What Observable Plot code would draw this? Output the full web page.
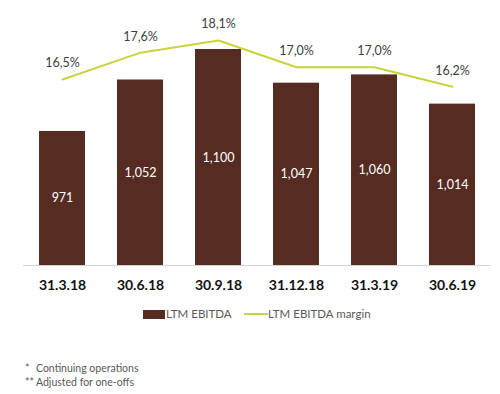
<!DOCTYPE html>
<html>
<head>
<meta charset="utf-8">
<script src="https://cdn.jsdelivr.net/npm/d3@7"></script>
<script src="https://cdn.jsdelivr.net/npm/@observablehq/plot@0.6"></script>
<style>
  html, body { margin: 0; padding: 0; background: #fff; }
  #wrap { position: relative; width: 500px; height: 394px; font-family: Lato, "Open Sans", sans-serif; }
  #legend { position: absolute; top: 306px; left: 0; width: 500px; height: 16px; font-size: 11.5px; color: #595959; }
  .sw { position: absolute; }
  .lt { position: absolute; top: 0; line-height: 16px; }
  #notes { position: absolute; left: 25px; top: 361px; font-size: 10.5px; color: #595959; line-height: 14px; }
  #notes span { display: inline-block; width: 11px; }
</style>
</head>
<body>
<div id="wrap">
  <div id="chart"></div>
  <div id="legend">
    <div class="sw" style="left:143px; top:4px; width:22px; height:9px; background:#562b22;"></div>
    <div class="lt" style="left:166px;">LTM EBITDA</div>
    <div class="sw" style="left:244px; top:7px; width:24px; height:2px; background:#c9d43a;"></div>
    <div class="lt" style="left:268px;">LTM EBITDA margin</div>
  </div>
  <div id="notes">
    <div><span>*</span>Continuing operations</div>
    <div><span>**</span>Adjusted for one-offs</div>
  </div>
</div>
<script>
const categories = ["31.3.18", "30.6.18", "30.9.18", "31.12.18", "31.3.19", "30.6.19"];
const ebitda = [971, 1052, 1100, 1047, 1060, 1014];
const margin = [16.5, 17.6, 18.1, 17.0, 17.0, 16.2];
const ebitdaLabels = ["971", "1,052", "1,100", "1,047", "1,060", "1,014"];
const marginLabels = ["16,5%", "17,6%", "18,1%", "17,0%", "17,0%", "16,2%"];

const yDomain = [760, 1100];
const marginDomain = [8.87, 17.73]; // secondary (right) axis domain
const toPrimary = d3.scaleLinear().domain(marginDomain).range(yDomain);

const data = categories.map((c, i) => ({
  cat: c, v: ebitda[i], vl: ebitdaLabels[i], m: margin[i], ml: marginLabels[i]
}));

const chart = Plot.plot({
  width: 500,
  height: 300,
  marginLeft: 23,
  marginRight: 9,
  marginTop: 49,
  marginBottom: 35,
  style: { fontFamily: "Lato, 'Open Sans', sans-serif", background: "#fff" },
  x: { domain: categories, paddingInner: 0.41, paddingOuter: 0.205, label: null },
  y: { domain: yDomain, axis: null },
  marks: [
    Plot.barY(data, { x: "cat", y1: yDomain[0], y2: "v", fill: "#562b22" }),
    Plot.ruleY([yDomain[0]], { stroke: "#d4d4d4", strokeWidth: 1 }),
    Plot.text(data, { x: "cat", y: d => (yDomain[0] + d.v) / 2, text: "vl", fill: "#ffffff", fontSize: 12.5 }),
    Plot.line(data, { x: "cat", y: d => toPrimary(d.m), stroke: "#c9d43a", strokeWidth: 2 }),
    Plot.text(data, { x: "cat", y: d => toPrimary(d.m), text: "ml", dy: -16, fill: "#404040", fontSize: 12.5 }),
    Plot.axisX({ tickSize: 0, tickPadding: 15, fontSize: 14, fontWeight: "bold", fill: "#111", label: null })
  ]
});
document.getElementById("chart").appendChild(chart);
</script>
</body>
</html>
